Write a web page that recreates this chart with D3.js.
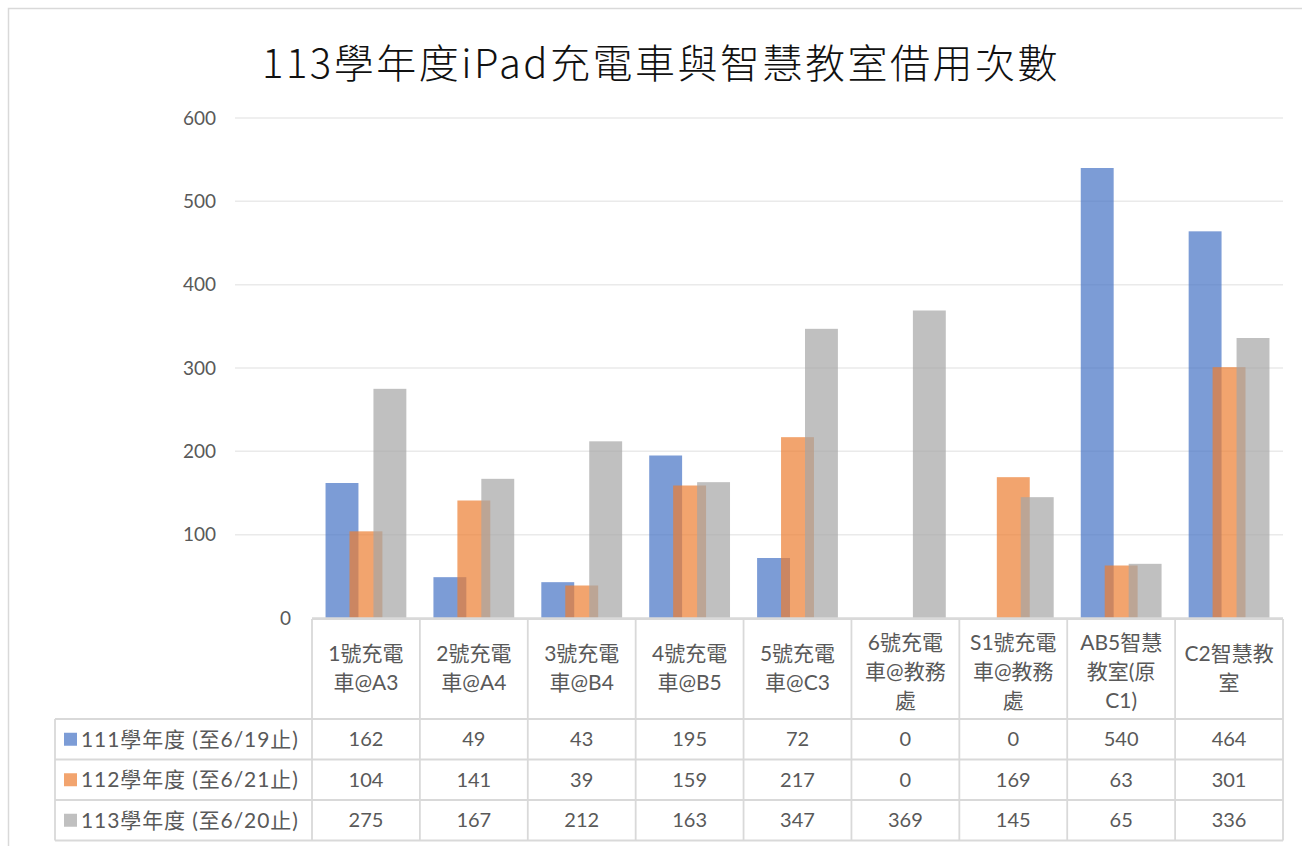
<!DOCTYPE html>
<html>
<head>
<meta charset="utf-8">
<script src="https://cdn.jsdelivr.net/npm/d3@7"></script>
<style>
  html, body { margin: 0; padding: 0; background: #fff; }
  svg { display: block; font-family: "Lato", "Noto Sans CJK TC", sans-serif; }
</style>
</head>
<body>
<div id="chart"></div>
<script>
// --- data ---
const title = '113學年度iPad充電車與智慧教室借用次數';
const categories = ['1號充電車@A3', '2號充電車@A4', '3號充電車@B4', '4號充電車@B5', '5號充電車@C3',
  '6號充電車@教務處', 'S1號充電車@教務處', 'AB5智慧教室(原C1)', 'C2智慧教室'];
// how each header cell wraps
const categoryLines = [
  ['1號充電', '車@A3'], ['2號充電', '車@A4'], ['3號充電', '車@B4'], ['4號充電', '車@B5'], ['5號充電', '車@C3'],
  ['6號充電', '車@教務', '處'], ['S1號充電', '車@教務', '處'], ['AB5智慧', '教室(原', 'C1)'], ['C2智慧教', '室']
];
const seriesNames = ['111學年度 (至6/19止)', '112學年度 (至6/21止)', '113學年度 (至6/20止)'];
const values111 = [162, 49, 43, 195, 72, 0, 0, 540, 464];
const values112 = [104, 141, 39, 159, 217, 0, 169, 63, 301];
const values113 = [275, 167, 212, 163, 347, 369, 145, 65, 336];
const seriesColors = ['#4472C4', '#ED7D31', '#A5A5A5'];
const yTicks = [0, 100, 200, 300, 400, 500, 600];

const series = seriesNames.map((name, i) => ({
  name,
  color: seriesColors[i],
  values: [values111, values112, values113][i],
}));

const W = 1302, H = 846;
const plotLeft = 312, plotRight = 1283;
const plotTop = 118, plotBottom = 618;
const tableLeft = 55;
const headerTop = 619, headerBottom = 719, rowH = 40.5;
const textColor = '#595959';
const lineColor = '#D9D9D9';

const svg = d3.select('#chart').append('svg')
  .attr('width', W)
  .attr('height', H);

// chart frame
svg.append('rect')
  .attr('x', 8.5).attr('y', 8.5)
  .attr('width', W + 20).attr('height', H + 20)
  .attr('fill', '#fff')
  .attr('stroke', lineColor)
  .attr('stroke-width', 1.5);

svg.append('text')
  .attr('x', 661).attr('y', 78)
  .attr('text-anchor', 'middle')
  .attr('font-family', '"Noto Sans CJK TC", sans-serif')
  .attr('font-size', 40)
  .attr('font-weight', 300)
  .attr('letter-spacing', 2.5)
  .attr('fill', '#111')
  .text(title);

const x = d3.scaleBand().domain(categories).range([plotLeft, plotRight]);
const y = d3.scaleLinear().domain([0, 600]).range([plotBottom, plotTop]);

// gridlines
svg.append('g')
  .selectAll('line')
  .data(yTicks.filter(t => t > 0))
  .join('line')
  .attr('x1', 235).attr('x2', plotRight)
  .attr('y1', d => y(d)).attr('y2', d => y(d))
  .attr('stroke', '#EAEAEA')
  .attr('stroke-width', 1.5);

// y labels (Excel pushes the 0 label next to the data table)
svg.append('g')
  .selectAll('text')
  .data(yTicks)
  .join('text')
  .attr('x', d => (d === 0 ? 291 : 216))
  .attr('y', d => y(d))
  .attr('dy', '0.35em')
  .attr('text-anchor', 'end')
  .attr('font-size', 19)
  .attr('fill', textColor)
  .text(d => d);

// bars: overlapping, semi-transparent like Excel
const bw = x.bandwidth();
const barW = bw * 0.305;
const step = bw * 0.222;
const groupStart = (bw - (2 * step + barW)) / 2;

series.forEach((s, si) => {
  svg.append('g')
    .selectAll('rect')
    .data(categories.map((c, ci) => ({ c, v: s.values[ci] })))
    .join('rect')
    .attr('x', d => x(d.c) + groupStart + si * step)
    .attr('y', d => y(d.v))
    .attr('width', barW)
    .attr('height', d => y(0) - y(d.v))
    .attr('fill', s.color)
    .attr('fill-opacity', 0.7);
});

// axis line
svg.append('line')
  .attr('x1', plotLeft).attr('x2', plotRight)
  .attr('y1', plotBottom).attr('y2', plotBottom)
  .attr('stroke', lineColor)
  .attr('stroke-width', 1.5);

// --- data table ---
const grid = svg.append('g')
  .attr('stroke', lineColor)
  .attr('stroke-width', 1.8)
  .attr('fill', 'none');
const tableBottom = headerBottom + rowH * series.length;

// horizontal rules
grid.append('line').attr('x1', plotLeft).attr('x2', plotRight).attr('y1', headerTop).attr('y2', headerTop);
d3.range(series.length + 1).forEach(i => {
  const yy = headerBottom + i * rowH;
  grid.append('line').attr('x1', tableLeft).attr('x2', plotRight).attr('y1', yy).attr('y2', yy);
});
// vertical rules
grid.append('line').attr('x1', tableLeft).attr('x2', tableLeft).attr('y1', headerBottom).attr('y2', tableBottom);
categories.concat(['end']).forEach((c, i) => {
  const xx = i < categories.length ? x(c) : plotRight;
  grid.append('line').attr('x1', xx).attr('x2', xx).attr('y1', headerTop).attr('y2', tableBottom);
});

// header labels
const lineH = 29;
categories.forEach((c, i) => {
  const lines = categoryLines[i];
  const cy = (headerTop + headerBottom) / 2 + (lines.length === 3 ? 3 : -1);
  const t = svg.append('text')
    .attr('text-anchor', 'middle')
    .attr('font-size', 21)
    .attr('fill', textColor);
  lines.forEach((ln, li) => {
    t.append('tspan')
      .attr('x', x(c) + bw / 2)
      .attr('y', cy + (li - (lines.length - 1) / 2) * lineH)
      .attr('dy', '0.35em')
      .text(ln);
  });
});

// rows
series.forEach((s, si) => {
  const cy = headerBottom + si * rowH + rowH / 2;
  svg.append('rect')
    .attr('x', 64).attr('y', cy - 6.5)
    .attr('width', 13).attr('height', 13)
    .attr('fill', s.color)
    .attr('fill-opacity', 0.7);
  svg.append('text')
    .attr('x', 81).attr('y', cy)
    .attr('dy', '0.35em')
    .attr('font-size', 21)
    .attr('letter-spacing', 0.9)
    .attr('fill', textColor)
    .text(s.name);
  svg.append('g')
    .selectAll('text')
    .data(categories.map((c, ci) => ({ c, v: s.values[ci] })))
    .join('text')
    .attr('x', d => x(d.c) + bw / 2)
    .attr('y', cy)
    .attr('dy', '0.35em')
    .attr('text-anchor', 'middle')
    .attr('font-size', 20)
    .attr('fill', textColor)
    .text(d => d.v);
});
</script>
</body>
</html>
